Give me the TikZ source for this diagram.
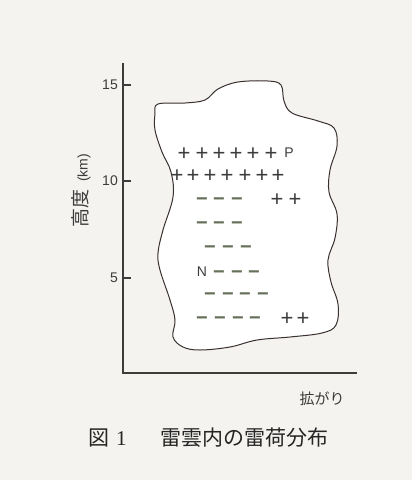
\documentclass[tikz,border=0pt]{standalone}
\usepackage{fontspec}
\setmainfont{Liberation Sans}
\newfontfamily\jpfont{Noto Sans CJK JP}
\newfontfamily\numfont{Liberation Serif}
\usepackage{tikz}
\definecolor{paper}{HTML}{F4F3EF}
\definecolor{ink}{HTML}{3C3C3C}
\definecolor{cloudink}{HTML}{3A3030}
\definecolor{negink}{HTML}{66715A}
\tikzstyle{axis} = [ink, line width=1.2pt]
\tikzstyle{cloudline} = [cloudink, line width=1pt, fill=white]
\tikzstyle{ticklabel} = [anchor=east, inner sep=0, text=ink, font=\fontsize{14}{14}\selectfont]
\tikzstyle{plus} = [inner sep=0, anchor=base, yshift=-7.6pt, text=ink, font=\fontsize{22}{22}\selectfont]
\tikzstyle{minus} = [inner sep=0, anchor=base, yshift=-6.6pt, text=negink, font=\bfseries\fontsize{20}{20}\selectfont]
\tikzstyle{letter} = [inner sep=0, text=ink, font=\fontsize{14}{14}\selectfont]
\tikzstyle{jptext} = [inner sep=0, text=ink]

\begin{document}
\begin{tikzpicture}[x=1pt, y=-1pt]

  % Paper
  \fill[paper] (0,0) rectangle (412,480);

  % Cloud outline
  \draw[cloudline] plot[smooth cycle, tension=0.6] coordinates {
    (158,104) (185,103) (205,100) (218,89) (238,82) (268,81) (281,85)
    (284,101) (292,113) (318,121) (334,128) (337,146) (330,170) (329,192)
    (337,214) (335,238) (328,260) (331,282) (338,304) (336,325) (322,333)
    (290,337) (257,340) (230,347) (200,350) (183,347) (173,337) (175,320)
    (170,300) (160,270) (158,253) (163,230) (173,197) (171,172) (162,152)
    (155,130) (155,114)};

  % Axes
  \coordinate (ytop) at (123,63);
  \coordinate (origin) at (123,373);
  \coordinate (xend) at (357,373);
  \draw[axis] (ytop) -- (origin) -- (xend);

  % Ticks
  \foreach \v/\y in {5/278, 10/181, 15/85} {
    \coordinate (tick\v) at (123,\y);
    \draw[axis] (tick\v) -- ++(8,0);
    \node[ticklabel] (label\v) at (118,\y) {\v};
  }

  % Axis titles
  \node[jptext, rotate=90, font=\jpfont\fontsize{19}{19}\selectfont] (ytitle) at (81,191)
    {高度\hspace{8pt}{\rmfamily\fontsize{14}{14}\selectfont(km)}};
  \node[jptext, font=\jpfont\fontsize{15}{15}\selectfont] (xtitle) at (322,399) {拡がり};

  % Positive charges
  \foreach \x [count=\i] in {184,202,219,236,253,271}
    \node[plus] (pa\i) at (\x,153) {+};
  \node[letter] (P) at (289,153) {P};
  \foreach \x [count=\i] in {177,193,210,227,245,262,278}
    \node[plus] (pb\i) at (\x,175) {+};
  \foreach \x [count=\i] in {277,295}
    \node[plus] (pc\i) at (\x,199) {+};
  \foreach \x [count=\i] in {287,303}
    \node[plus] (pd\i) at (\x,318) {+};

  % Negative charges
  \foreach \x [count=\i] in {202,219,237}
    \node[minus] (na\i) at (\x,199) {−};
  \foreach \x [count=\i] in {202,219,237}
    \node[minus] (nb\i) at (\x,223) {−};
  \foreach \x [count=\i] in {210,228,246}
    \node[minus] (nc\i) at (\x,247) {−};
  \node[letter] (N) at (202,272) {N};
  \foreach \x [count=\i] in {219,237,254}
    \node[minus] (nd\i) at (\x,272) {−};
  \foreach \x [count=\i] in {210,228,245,263}
    \node[minus] (ne\i) at (\x,294) {−};
  \foreach \x [count=\i] in {202,220,238,255}
    \node[minus] (nf\i) at (\x,318) {−};

  % Caption
  \node[jptext, anchor=west, text=black!85, font=\jpfont\fontsize{21}{21}\selectfont] (caption) at (88,438)
    {図\hspace{7pt}{\numfont 1}\hspace{34pt}雷雲内の雷荷分布};

\end{tikzpicture}
\end{document}
